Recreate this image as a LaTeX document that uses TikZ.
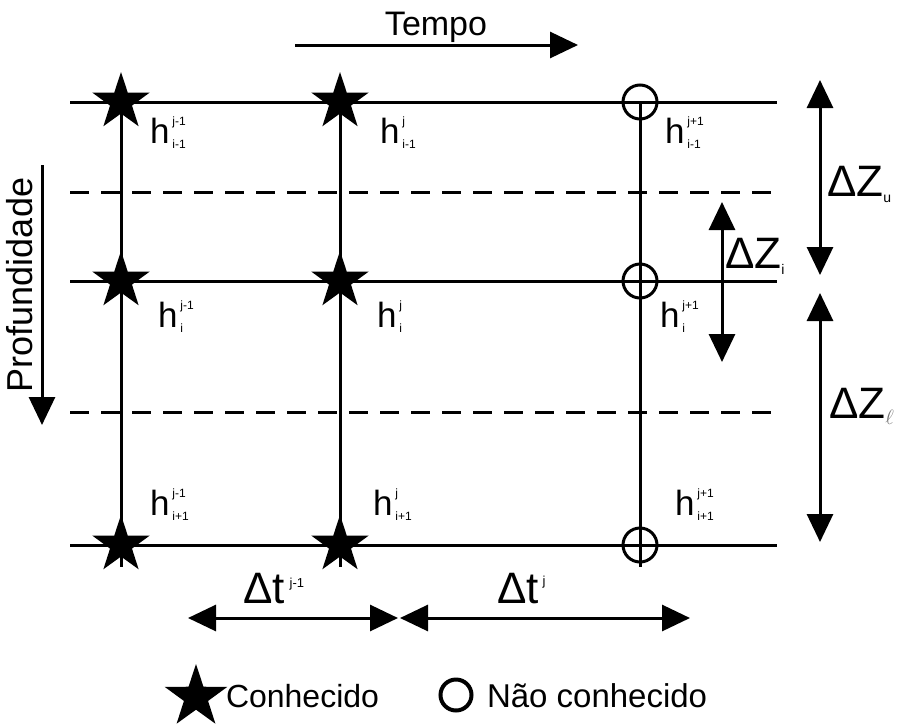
\documentclass[tikz,border=0pt]{standalone}
\usepackage{fontspec}
\setmainfont{Liberation Sans}
\usetikzlibrary{arrows.meta,shapes.geometric}

% h with stacked superscript (time level) and subscript (depth level)
\newcommand\hval[2]{h\kern3pt\raisebox{-5pt}{\fontsize{12}{12}\selectfont\begin{tabular}[b]{@{}l@{}}#1\\[10pt]#2\end{tabular}}}

\begin{document}
\begin{tikzpicture}[x=1pt,y=-1pt,
  every node/.style={inner sep=0pt, outer sep=0pt},
  gridline/.style={line width=3pt},
  midline/.style={line width=3pt, dash pattern=on 19pt off 12pt},
  onetip/.style={line width=3pt, -{Triangle[length=28pt,width=26pt]}},
  dim/.style={line width=3pt, {Triangle[length=28pt,width=26pt]}-{Triangle[length=28pt,width=26pt]}},
  known/.style={star, star points=5, star point ratio=2.6, fill=black, minimum size=60pt},
  unknown/.style={circle, draw, line width=3pt, minimum size=34pt},
  lab/.style={anchor=base west, font=\fontsize{35}{35}\selectfont},
  deltalab/.style={anchor=base west, font=\fontsize{44}{44}\selectfont},
  legtext/.style={anchor=base west, font=\fontsize{32}{32}\selectfont}]

\useasboundingbox (0,0) rectangle (904,723);

% grid rows (depth levels) and interfaces
\foreach \r/\y in {1/102,2/281,3/545} {
  \coordinate (L\r) at (70,\y);
  \coordinate (R\r) at (777,\y);
}
\foreach \d/\y in {1/192,2/412} {
  \coordinate (DL\d) at (70,\y);
  \coordinate (DR\d) at (777,\y);
}
% grid columns (time levels)
\foreach \c/\x in {1/121,2/340,3/640} {
  \coordinate (T\c) at (\x,102);
  \coordinate (B\c) at (\x,567);
}

\foreach \r in {1,2,3} \draw[gridline] (L\r) -- (R\r);
\foreach \d in {1,2} \draw[midline] (DL\d) -- (DR\d);
\foreach \c in {1,2,3} \draw[gridline] (T\c) -- (B\c);

% known values
\node[known] (k11) at (121,102) {};
\node[known] (k12) at (340,102) {};
\node[known] (k21) at (121,281) {};
\node[known] (k22) at (340,281) {};
\node[known] (k31) at (121,545) {};
\node[known] (k32) at (340,545) {};
% unknown values
\node[unknown] (u1) at (640,102) {};
\node[unknown] (u2) at (640,281) {};
\node[unknown] (u3) at (640,545) {};

% node labels
\node[lab] (h11) at (150,143) {\hval{j-1}{i-1}};
\node[lab] (h12) at (380,143) {\hval{j}{i-1}};
\node[lab] (h13) at (665,143) {\hval{j+1}{i-1}};
\node[lab] (h21) at (158,327) {\hval{j-1}{i}};
\node[lab] (h22) at (377,327) {\hval{j}{i}};
\node[lab] (h23) at (660,327) {\hval{j+1}{i}};
\node[lab] (h31) at (150,515) {\hval{j-1}{i+1}};
\node[lab] (h32) at (373,515) {\hval{j}{i+1}};
\node[lab] (h33) at (675,515) {\hval{j+1}{i+1}};

% time axis
\node[anchor=base, font=\fontsize{34}{34}\selectfont] (tempo) at (436,35) {Tempo};
\coordinate (ta) at (295,45);
\coordinate (tb) at (578,45);
\draw[onetip] (ta) -- (tb);

% depth axis
\node[rotate=90, font=\fontsize{36}{36}\selectfont] (prof) at (20,285) {Profundidade};
\coordinate (pa) at (42,165);
\coordinate (pb) at (42,425);
\draw[onetip] (pa) -- (pb);

% layer thicknesses
\coordinate (zu1) at (820,80);
\coordinate (zu2) at (820,275);
\coordinate (zl1) at (820,293);
\coordinate (zl2) at (820,542);
\coordinate (zi1) at (722,202);
\coordinate (zi2) at (722,362);
\draw[dim] (zu1) -- (zu2);
\draw[dim] (zl1) -- (zl2);
\draw[dim] (zi1) -- (zi2);
\node[deltalab] (dzu) at (827,196) {ΔZ\raisebox{-6pt}{\fontsize{14}{14}\selectfont u}};
\node[deltalab] (dzi) at (725,268) {ΔZ\raisebox{-6pt}{\fontsize{14}{14}\selectfont i}};
\node[deltalab] (dzl) at (829,418) {ΔZ\raisebox{-6pt}{\color{black!55}\fontsize{22}{22}\selectfont$\ell$}};

% time steps
\coordinate (ta1) at (188,618);
\coordinate (ta2) at (398,618);
\coordinate (tb1) at (400,618);
\coordinate (tb2) at (690,618);
\draw[dim] (ta1) -- (ta2);
\draw[dim] (tb1) -- (tb2);
\node[deltalab] (dt1) at (243,603) {Δt\kern5pt\raisebox{16pt}{\fontsize{13}{13}\selectfont j-1}};
\node[deltalab] (dt2) at (497,603) {Δt\kern4pt\raisebox{18pt}{\fontsize{13}{13}\selectfont j}};

% legend
\node[known, minimum size=66pt] (lk) at (196,697) {};
\node[legtext] (lkt) at (226,707) {Conhecido};
\node[unknown, line width=4pt, minimum size=31pt] (lu) at (456,695) {};
\node[legtext, font=\fontsize{33}{33}\selectfont] (lut) at (487,707) {Não conhecido};
\end{tikzpicture}
\end{document}
